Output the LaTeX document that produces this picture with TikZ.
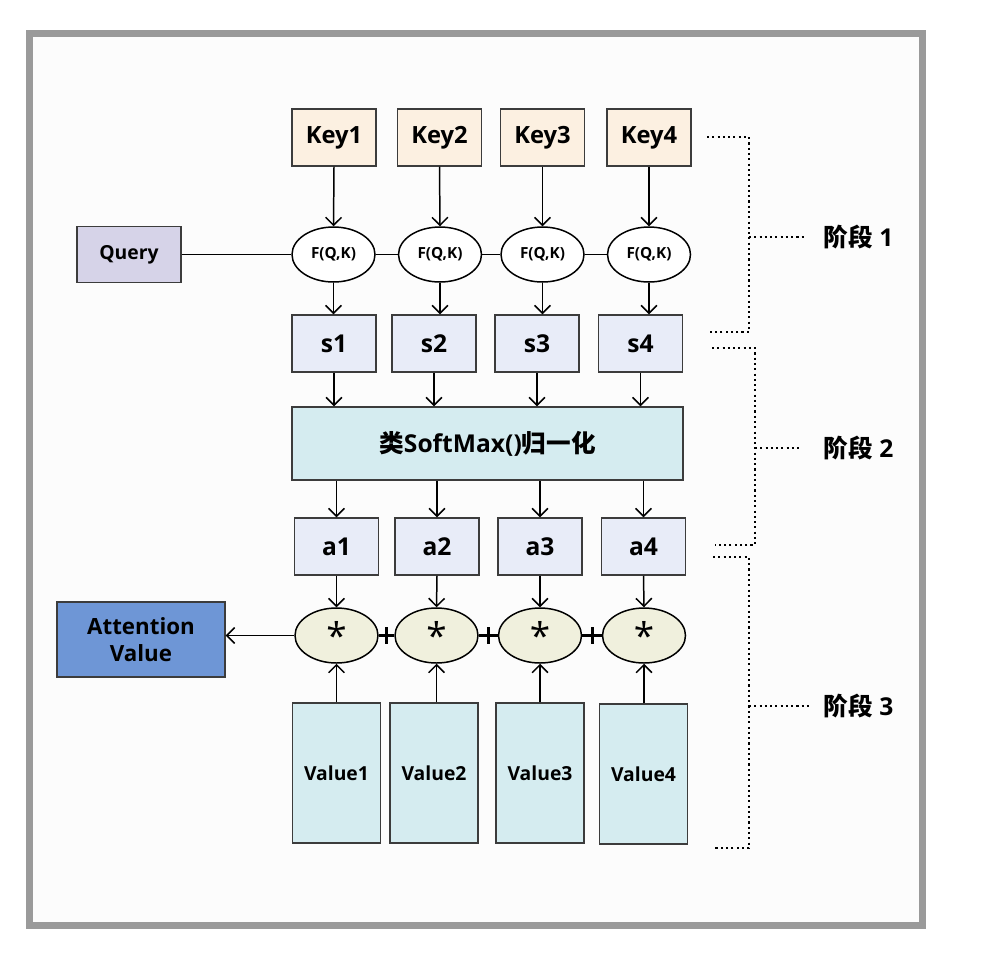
\documentclass[tikz,border=0pt]{standalone}
\usepackage{fontspec}
\setmainfont{Open Sans}
\newfontfamily\cjk{Noto Sans CJK SC}
\usetikzlibrary{shapes.geometric,arrows.meta}
\definecolor{framegray}{RGB}{154,154,154}
\definecolor{paper}{RGB}{252,252,252}
\definecolor{keyfill}{RGB}{252,240,225}
\definecolor{queryfill}{RGB}{214,211,232}
\definecolor{scorefill}{RGB}{232,236,248}
\definecolor{cyanfill}{RGB}{213,236,240}
\definecolor{mulfill}{RGB}{240,240,221}
\definecolor{attnfill}{RGB}{110,150,214}
\definecolor{edge}{RGB}{60,60,60}

\begin{document}
\begin{tikzpicture}[x=0.02cm,y=-0.02cm,line width=0.85pt,>={Straight Barb[length=4.5pt,width=9pt]}]
    \tikzstyle{box}=[rectangle,draw=edge,line width=0.85pt,minimum width=1.68cm,minimum height=1.14cm,inner sep=0pt,font=\fontsize{14}{16}\selectfont\bfseries]
    \tikzstyle{keybox}=[box,fill=keyfill,font=\fontsize{13.5}{16}\selectfont\bfseries]
    \tikzstyle{scorebox}=[box,fill=scorefill]
    \tikzstyle{valuebox}=[box,fill=cyanfill,minimum width=1.76cm,minimum height=2.8cm,font=\fontsize{11}{13}\selectfont\bfseries]
    \tikzstyle{fqk}=[ellipse,draw=black,fill=white,line width=0.85pt,minimum width=1.66cm,minimum height=1.1cm,inner sep=0pt,font=\fontsize{8.7}{10}\selectfont\bfseries]
    \tikzstyle{mul}=[fqk,fill=mulfill,font=\fontsize{21}{21}\selectfont]
    \tikzstyle{plusbar}=[rectangle,fill=black,minimum width=1.7pt,minimum height=9.6pt,inner sep=0pt]
    \tikzstyle{bracket}=[black,line width=1.2pt,dash pattern=on 1.2pt off 1.8pt]
    \tikzstyle{stage}=[anchor=west,inner sep=0pt,font=\fontsize{14}{16}\selectfont\bfseries]

    \useasboundingbox (0,0) rectangle (986,964);
    \draw[framegray,line width=4pt,fill=paper] (29.5,33.5) rectangle (922.5,925.5);

            \node[keybox] (k1) at (334,137.5){Key1};
            \node[keybox] (k2) at (439.5,137.5){Key2};
            \node[keybox] (k3) at (542.5,137.5){Key3};
            \node[keybox] (k4) at (649,137.5){Key4};

            \node[box,fill=queryfill,minimum width=2.08cm,minimum height=1.12cm,font=\fontsize{11}{12}\selectfont\bfseries] (q) at (129,254.5){Query};

            \node[fqk] (f1) at (333.5,254.5){F(Q,K)};
            \node[fqk] (f2) at (440,254.5){F(Q,K)};
            \node[fqk] (f3) at (542.5,254.5){F(Q,K)};
            \node[fqk] (f4) at (649,254.5){F(Q,K)};

            \node[scorebox] (s1) at (334,343.5){s1};
            \node[scorebox] (s2) at (434,343.5){s2};
            \node[scorebox] (s3) at (537,343.5){s3};
            \node[scorebox] (s4) at (640.5,343.5){s4};

            \node[box,fill=cyanfill,minimum width=7.82cm,minimum height=1.46cm] (sm) at (487.5,443.5){{\cjk\bfseries 类}SoftMax(){\cjk\bfseries 归一化}};

            \node[scorebox] (a1) at (336.5,546.5){a1};
            \node[scorebox] (a2) at (437,546.5){a2};
            \node[scorebox] (a3) at (540,546.5){a3};
            \node[scorebox] (a4) at (643.5,546.5){a4};

            \node[mul] (m1) at (336.5,635.5){\raisebox{-0.3em}{*}};
            \node[mul] (m2) at (436.5,635.5){\raisebox{-0.3em}{*}};
            \node[mul] (m3) at (540,635.5){\raisebox{-0.3em}{*}};
            \node[mul] (m4) at (644,635.5){\raisebox{-0.3em}{*}};

            \node[box,fill=attnfill,minimum width=3.36cm,minimum height=1.5cm,align=center,font=\fontsize{12.7}{15}\selectfont\bfseries] (av) at (141,639.5){Attention\\Value};

            \node[valuebox] (v1) at (336.5,773){Value1};
            \node[valuebox] (v2) at (434,773){Value2};
            \node[valuebox] (v3) at (540,773){Value3};
            \node[valuebox] (v4) at (643.5,774){Value4};

            \node[stage] (p1) at (823,237){{\cjk\bfseries 阶段} 1};
            \node[stage] (p2) at (823,448){{\cjk\bfseries 阶段} 2};
            \node[stage] (p3) at (823,706){{\cjk\bfseries 阶段} 3};

        \foreach \i in {1,...,4}
            \draw[->] (k\i.south) -- (f\i.north);
        \foreach \i in {1,...,4}
            \draw[->] (f\i.south) -- (f\i.south |- s\i.north);
        \foreach \i in {1,...,4}
            \draw[->] (s\i.south) -- (s\i.south |- sm.north);
        \foreach \i in {1,...,4}
            \draw[->] (a\i.north |- sm.south) -- (a\i.north);
        \foreach \i in {1,...,4}
            \draw[->] (a\i.south) -- (m\i.north);
        \foreach \i in {1,...,4}
            \draw[->] (m\i.south |- v\i.north) -- (m\i.south);

        \draw (q.east) -- (q.east -| f1.west);
        \foreach \from/\to in {1/2, 2/3, 3/4}
            \draw (f\from) -- (f\to);
        \foreach \from/\to in {1/2, 2/3, 3/4}
            \draw[line width=1.7pt] (m\from) -- node[plusbar]{} (m\to);
        \draw[->] (m1.west) -- (m1.west -| av.east);

        \draw[bracket] (707,137) -- (749,137) -- (749,332) -- (709,332);
        \draw[bracket] (749,237) -- ([xshift=-10pt]p1.west);
        \draw[bracket] (712,348) -- (755,348) -- (755,545) -- (715,545);
        \draw[bracket] (755,448) -- ([xshift=-13pt]p2.west);
        \draw[bracket] (713,557) -- (749,557) -- (749,848) -- (713,848);
        \draw[bracket] (749,706) -- ([xshift=-7pt]p3.west);
\end{tikzpicture}
\end{document}
